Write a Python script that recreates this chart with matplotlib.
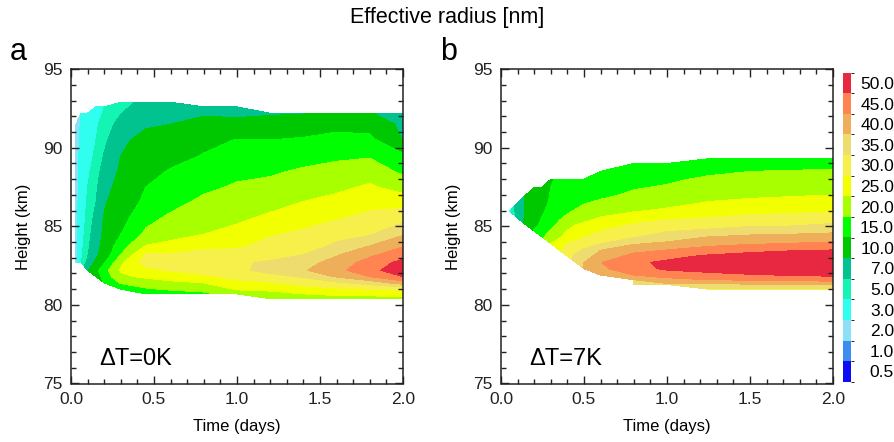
import numpy as np
import matplotlib
matplotlib.use("Agg")
import matplotlib.pyplot as plt
from matplotlib.colors import ListedColormap, BoundaryNorm
from matplotlib.cm import ScalarMappable
from matplotlib.ticker import MultipleLocator, FormatStrFormatter

plt.rcParams["font.family"] = ["Liberation Sans", "DejaVu Sans"]

N = np.nan

# ── Contour levels / colours ─────────────────────────────────────────────────
LEVELS = [0.5, 1.0, 2.0, 3.0, 5.0, 7.0, 10.0, 15.0, 20.0, 25.0, 30.0, 35.0, 40.0, 45.0, 50.0]
LEVEL_LABELS = ["0.5", "1.0", "2.0", "3.0", "5.0", "7.0", "10.0", "15.0", "20.0",
                "25.0", "30.0", "35.0", "40.0", "45.0", "50.0"]
COLORS = ["#0D0DF5", "#3C8CF2", "#8CE0F5", "#30FFF0", "#14F5B4", "#00C390", "#00C800",
          "#00FF00", "#A8FF00", "#F2FF00", "#F7F04A", "#EEDD6E", "#EFAE5A", "#FF8452",
          "#E82840"]

# ── Panel a: dT = 0 K  (rows = time, columns = height) ──────────────────────
TIME_A = [0.03, 0.06, 0.1, 0.15, 0.2, 0.3, 0.45, 0.6, 0.8, 1.0, 1.2, 1.4, 1.6, 1.8, 2.0]
HEIGHT_A = [80.4, 80.7, 81.0, 81.4, 81.8, 82.2, 82.7, 83.2, 83.7, 84.5, 85.5, 86.5,
            87.5, 88.5, 89.5, 90.5, 91.5, 92.2, 92.6, 92.9]
RADIUS_A = [
    [N, N, N, N, N, N, 2.4, 2.5, 2.5, 2.6, 2.6, 2.6, 2.6, 2.6, 2.6, 2.6, 2.5, N, N, N],
    [N, N, N, N, N, N, 4.6, 4.6, 4.3, 4.0, 3.8, 3.6, 3.5, 3.4, 3.3, 3.2, 3.1, 3.05, N, N],
    [N, N, N, N, N, 9.5, 7.7, 6.8, 6.5, 6.1, 5.6, 5.3, 5.0, 4.6, 4.2, 4.0, 3.8, 3.6, N, N],
    [N, N, N, N, 12, 13.5, 10.8, 9.2, 8.9, 8.4, 7.8, 7.0, 6.6, 6.0, 5.4, 5.0, 4.6, 4.3, 4.1, N],
    [N, N, N, 15.5, 17, 18, 14.5, 11.8, 11.2, 10.6, 10.3, 9.6, 8.7, 8.0, 7.2, 6.4, 5.9, 5.2, 5.0, N],
    [N, N, 16, 20.5, 24, 25.5, 24, 20, 18, 15, 13.3, 12.3, 11.4, 10.5, 10, 9.2, 7.8, 6.9, 6.5, 6.3],
    [N, 17, 19.5, 22, 26, 28.5, 32, 30.5, 25.5, 21, 18.5, 16, 15, 13, 12, 11.2, 9.5, 8.5, 8, 7.6],
    [N, 18, 20.5, 24, 27, 30.5, 32, 30.5, 27, 23, 21, 18.5, 16.5, 15.5, 13, 11.8, 10, 9, 8.5, 8],
    [N, 19, 21.5, 25, 29, 32, 33.5, 32, 29, 25, 23, 21.2, 19, 17, 15.3, 13.5, 11.3, 9.5, 8.5, N],
    [N, 22, 25.5, 28.5, 31.5, 34, 34.5, 32, 29.3, 26.5, 24.2, 22.3, 20.6, 18.8, 16.8, 15.2, 11.5, 9, 8, N],
    [20.5, 23.5, 26, 29.5, 33.5, 36.5, 35.5, 33.5, 32, 29.5, 26, 23.5, 21.4, 19.3, 17, 15, 12, 9.5, N, N],
    [22, 25, 28, 32, 35.5, 39.5, 38, 35, 33, 31, 28, 25.2, 22.8, 20.7, 18, 15.5, 12.5, 9.8, N, N],
    [23, 26, 29, 34, 40.5, 43.5, 42, 39.5, 36, 33.5, 29.7, 26.5, 24, 21.8, 19, 16.5, 13.5, 11, N, N],
    [23, 26.5, 30, 37, 45, 48.5, 47, 44, 40.5, 34.5, 31.5, 28.5, 25.7, 22.8, 19.5, 16.2, 13, 10.2, N, N],
    [23, 27, 31, 42.5, 50, 53, 51.5, 48, 45, 39.5, 33.5, 28, 23, 19, 16, 9.8, 9, 8.5, N, N],
]

# ── Panel b: dT = 7 K ───────────────────────────────────────────────────────
TIME_B = [0.05, 0.1, 0.15, 0.2, 0.25, 0.3, 0.35, 0.4, 0.45, 0.5, 0.6, 0.8, 1.0,
          1.25, 1.5, 1.75, 2.0]
HEIGHT_B = [81.0, 81.3, 81.6, 81.9, 82.3, 82.7, 83.1, 83.5, 83.9, 84.3, 84.7, 85.1,
            85.5, 86.0, 86.5, 87.0, 87.5, 88.0, 88.5, 89.0, 89.3]
RADIUS_B = [
    [N, N, N, N, N, N, N, N, N, N, N, N, N, 4.0, N, N, N, N, N, N, N],
    [N, N, N, N, N, N, N, N, N, N, N, N, 8.0, 8.5, 8.5, N, N, N, N, N, N],
    [N, N, N, N, N, N, N, N, N, N, N, 11, 10.6, 10.4, 10.3, 10.2, N, N, N, N, N],
    [N, N, N, N, N, N, N, N, N, N, 15.5, 13.7, 12.9, 12.3, 12.0, 11.9, 11.8, N, N, N, N],
    [N, N, N, N, N, N, N, N, N, 19.5, 18, 16.4, 15.4, 14.5, 14, 13.7, 13.5, N, N, N, N],
    [N, N, N, N, N, N, N, N, 25, 22.3, 20.5, 18.6, 17.5, 16.3, 15.5, 15.2, 15, 14.8, N, N, N],
    [N, N, N, N, N, N, N, 29, 27, 24.6, 23, 21, 19.5, 17.3, 16.5, 16, 15.6, 15.3, N, N, N],
    [N, N, N, N, N, N, 33, 31.7, 30.3, 26.4, 25.3, 22.9, 21, 19.3, 18, 17, 16.3, 15.8, N, N, N],
    [N, N, N, N, N, 37, 36, 33.5, 31.5, 28, 26.5, 25, 22.5, 20.3, 19, 17.6, 16.7, 16.2, N, N, N],
    [N, N, N, N, 40.5, 40, 38, 35.5, 33, 30, 28, 26, 23.6, 21.5, 19.7, 18, 17, 16.5, N, N, N],
    [N, N, N, 40.5, 44, 44.8, 42, 39.8, 34.8, 32, 30, 28, 25.5, 23, 20.8, 19, 17.8, 17, 16.5, N, N],
    [N, 36, 40, 45, 48, 49, 46.5, 43.5, 39.5, 34.8, 32.5, 30.5, 28, 24.5, 22.5, 20.8, 19.6, 18.5, 17.5, 16.5, N],
    [N, 39, 43.5, 47, 50.8, 51, 48.5, 45, 41, 37.5, 34.7, 32, 29.5, 25.8, 23.5, 21.8, 20.4, 19.2, 17.8, 16.5, N],
    [34, 39, 45, 48.5, 52, 53, 50.8, 47, 43.5, 40.3, 36, 33, 30.3, 27.8, 25.3, 23.5, 22, 20.8, 19, 17, 16],
    [34, 39.5, 45.5, 49.5, 53.5, 55, 52, 48.5, 44.5, 41.5, 37.5, 34, 31.3, 28.7, 26, 24.2, 22.8, 21.5, 20, 17.5, 16],
    [34, 40, 46, 50.3, 55, 56, 53, 49.5, 45.2, 42, 38, 34.3, 31.8, 29, 26.5, 24.6, 23, 21.8, 20.3, 18, 16],
    [34, 40.5, 47, 51, 56, 57, 54, 50, 46, 42.5, 39, 35.7, 32.8, 29.5, 27, 25, 23.5, 22, 20.6, 18.5, 16.5],
]

PANELS = [
    ("a", "\u0394T=0K", TIME_A, HEIGHT_A, RADIUS_A),
    ("b", "\u0394T=7K", TIME_B, HEIGHT_B, RADIUS_B),
]

W, H = 895, 442
fig = plt.figure(figsize=(W / 100, H / 100), dpi=100)

axes_boxes = [(71, 69.2, 332, 314.3), (501, 69.2, 332, 314.3)]
label_x = [10, 440]

for (letter, note, t, z, r), (x0, y0, w, h), lx in zip(PANELS, axes_boxes, label_x):
    ax = fig.add_axes([x0 / W, 1 - (y0 + h) / H, w / W, h / H])
    vals = np.array(r, dtype=float).T
    ax.contourf(t, z, vals, levels=LEVELS + [1000], colors=COLORS)

    ax.set_xlim(0, 2)
    ax.set_ylim(75, 95)
    ax.xaxis.set_major_locator(MultipleLocator(0.5))
    ax.xaxis.set_minor_locator(MultipleLocator(0.1))
    ax.yaxis.set_major_locator(MultipleLocator(5))
    ax.yaxis.set_minor_locator(MultipleLocator(1))
    ax.xaxis.set_major_formatter(FormatStrFormatter("%.1f"))
    ax.tick_params(which="both", direction="in", top=True, right=True,
                   width=1.0, labelsize=12.5, colors="#222222")
    ax.tick_params(which="major", length=6, pad=6)
    ax.tick_params(which="minor", length=3.5)
    for sp in ax.spines.values():
        sp.set_linewidth(1.1)
        sp.set_color("#222222")

    ax.set_xlabel("Time (days)", fontsize=12, labelpad=9)
    ax.set_ylabel("Height (km)", fontsize=12, labelpad=9)
    ax.text(0.17, 76.2, note, fontsize=17, ha="left", va="baseline")

    fig.text(lx / W, 1 - 60 / H, letter, fontsize=22, ha="left", va="baseline")

# ── Colorbar ─────────────────────────────────────────────────────────────────
cax = fig.add_axes([843 / W, 1 - 381.7 / H, 8 / W, 309 / H])
n = len(LEVELS)
sm = ScalarMappable(norm=BoundaryNorm(np.arange(n + 1), n), cmap=ListedColormap(COLORS))
cb = fig.colorbar(sm, cax=cax, ticks=np.arange(n) + 0.5)
cb.set_ticklabels(LEVEL_LABELS)
cb.outline.set_visible(False)
cb.ax.tick_params(length=0, labelsize=12.5, pad=31)
for lab in cb.ax.get_yticklabels():
    lab.set_ha("right")

fig.text(0.5, 1 - 17 / H, "Effective radius [nm]", fontsize=15.5, ha="center", va="center")

fig.savefig("out.png", dpi=100)
